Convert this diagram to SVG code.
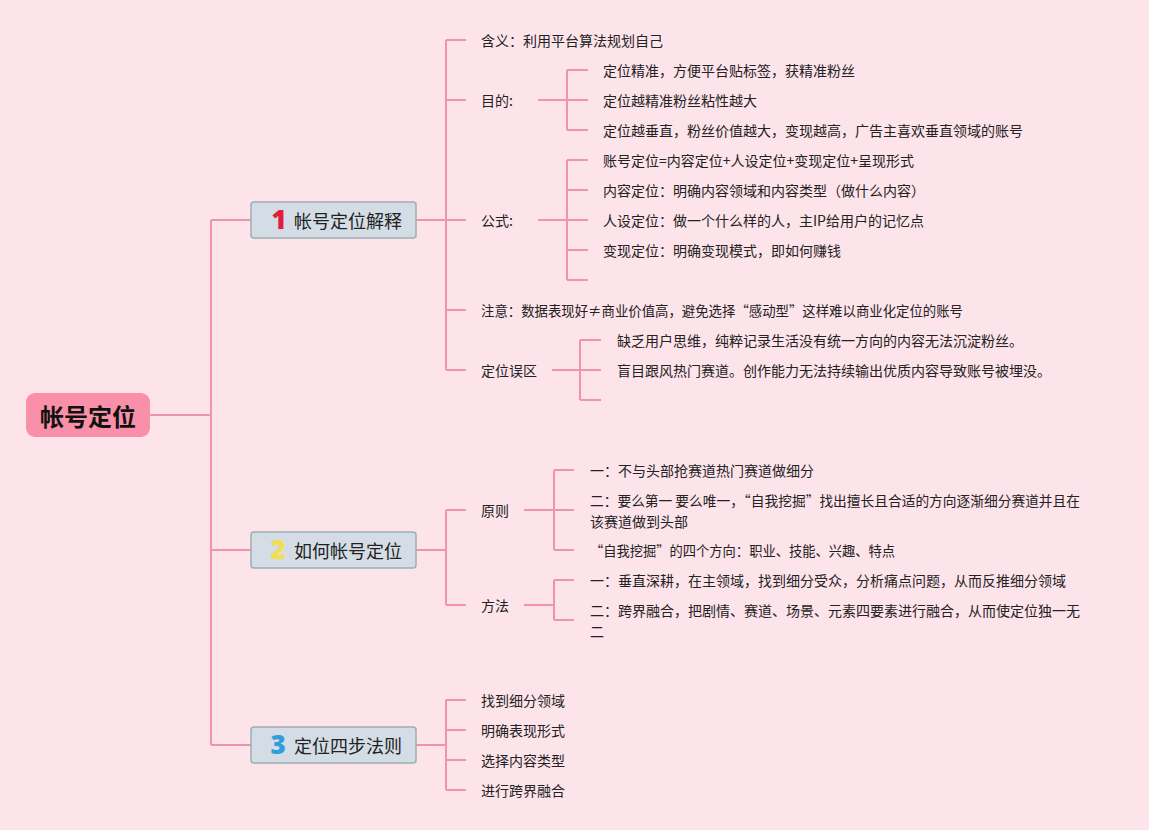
<svg xmlns="http://www.w3.org/2000/svg" width="1149" height="830" viewBox="0 0 1149 830">
<style>
.ln{fill:none;stroke:#ef94ae;stroke-width:2}
.t{font-family:"Noto Sans CJK SC","Noto Sans",sans-serif;font-size:14px;fill:#222;dominant-baseline:central}
.l1{fill:#d4dde6;stroke:#9bb0b0;stroke-width:1.5}
.l1t{font-family:"Noto Sans CJK SC","Noto Sans",sans-serif;font-size:18px;fill:#222;dominant-baseline:central}
.num{font-family:"Open Sans","Liberation Sans",sans-serif;font-weight:800;font-size:26px;dominant-baseline:central}
</style>
<rect width="1149" height="830" fill="#fde3ea"/>
<g id="connectors">
<path class="ln" d="M150,415H211M211,220V745M211,220H251M211,550H251M211,745H251"/>
<path class="ln" d="M416,220H446M446,40V370M446,40H466M446,100H466M446,220H466M446,310H466M446,370H466"/>
<path class="ln" d="M538,100H567M567,70V130M567,70H588M567,100H588M567,130H588"/>
<path class="ln" d="M538,220H567M567,160V280M567,160H588M567,190H588M567,220H588M567,250H588M567,280H588"/>
<path class="ln" d="M552,370H580M580,340V400M580,340H601M580,370H601M580,400H601"/>
<path class="ln" d="M416,550H446M446,510V605M446,510H466M446,605H466"/>
<path class="ln" d="M524,510H554M554,470V550M554,470H574M554,510H574M554,550H574"/>
<path class="ln" d="M524,605H554M554,580V620M554,580H574M554,620H574"/>
<path class="ln" d="M416,745H446M446,700V790M446,700H466M446,730H466M446,760H466M446,790H466"/>
</g>
<g id="root">
<rect x="26" y="393" width="124" height="44" rx="9" fill="#fa8faa"/>
<text x="88" y="415" text-anchor="middle" style="font-family:'Noto Sans CJK SC',sans-serif;font-size:24px;font-weight:bold;fill:#111;dominant-baseline:central">帐号定位</text>
</g>
<g id="n1">
<rect class="l1" x="251" y="202" width="165" height="36" rx="3"/>
<text class="num" x="279" y="219" text-anchor="middle" fill="#e0203a">1</text>
<text class="l1t" x="294" y="220">帐号定位解释</text>
</g>
<g id="n1a"><text class="t" x="481" y="40">含义：利用平台算法规划自己</text></g>
<g id="n1b"><text class="t" x="481" y="100">目的:</text></g>
<g id="n1b1"><text class="t" x="603" y="70">定位精准，方便平台贴标签，获精准粉丝</text></g>
<g id="n1b2"><text class="t" x="603" y="100">定位越精准粉丝粘性越大</text></g>
<g id="n1b3"><text class="t" x="603" y="130">定位越垂直，粉丝价值越大，变现越高，广告主喜欢垂直领域的账号</text></g>
<g id="n1c"><text class="t" x="481" y="220">公式:</text></g>
<g id="n1c1"><text class="t" x="603" y="160">账号定位=内容定位+人设定位+变现定位+呈现形式</text></g>
<g id="n1c2"><text class="t" x="603" y="190">内容定位：明确内容领域和内容类型（做什么内容）</text></g>
<g id="n1c3"><text class="t" x="603" y="220">人设定位：做一个什么样的人，主IP给用户的记忆点</text></g>
<g id="n1c4"><text class="t" x="603" y="250">变现定位：明确变现模式，即如何赚钱</text></g>
<g id="n1d"><text class="t" x="481" y="310" textLength="482" lengthAdjust="spacingAndGlyphs">注意：数据表现好≠商业价值高，避免选择“感动型”这样难以商业化定位的账号</text></g>
<g id="n1e"><text class="t" x="481" y="370">定位误区</text></g>
<g id="n1e1"><text class="t" x="617" y="340">缺乏用户思维，纯粹记录生活没有统一方向的内容无法沉淀粉丝。</text></g>
<g id="n1e2"><text class="t" x="617" y="370">盲目跟风热门赛道。创作能力无法持续输出优质内容导致账号被埋没。</text></g>
<g id="n2">
<rect class="l1" x="251" y="532" width="165" height="36" rx="3"/>
<text class="num" x="278" y="549" text-anchor="middle" fill="#f3df4e">2</text>
<text class="l1t" x="294" y="550">如何帐号定位</text>
</g>
<g id="n2a"><text class="t" x="481" y="510">原则</text></g>
<g id="n2a1"><text class="t" x="590" y="470">一：不与头部抢赛道热门赛道做细分</text></g>
<g id="n2a2"><text class="t" x="590" y="500" textLength="490" lengthAdjust="spacingAndGlyphs">二：要么第一 要么唯一，“自我挖掘”找出擅长且合适的方向逐渐细分赛道并且在</text><text class="t" x="590" y="521">该赛道做到头部</text></g>
<g id="n2a3"><text class="t" x="590" y="550" textLength="305" lengthAdjust="spacingAndGlyphs">“自我挖掘”的四个方向：职业、技能、兴趣、特点</text></g>
<g id="n2b"><text class="t" x="481" y="605">方法</text></g>
<g id="n2b1"><text class="t" x="590" y="580">一：垂直深耕，在主领域，找到细分受众，分析痛点问题，从而反推细分领域</text></g>
<g id="n2b2"><text class="t" x="590" y="610">二：跨界融合，把剧情、赛道、场景、元素四要素进行融合，从而使定位独一无</text><text class="t" x="590" y="631">二</text></g>
<g id="n3">
<rect class="l1" x="251" y="727" width="165" height="36" rx="3"/>
<text class="num" x="278" y="744" text-anchor="middle" fill="#2f9fdc">3</text>
<text class="l1t" x="294" y="745">定位四步法则</text>
</g>
<g id="n3a"><text class="t" x="481" y="700">找到细分领域</text></g>
<g id="n3b"><text class="t" x="481" y="730">明确表现形式</text></g>
<g id="n3c"><text class="t" x="481" y="760">选择内容类型</text></g>
<g id="n3d"><text class="t" x="481" y="790">进行跨界融合</text></g>
</svg>
